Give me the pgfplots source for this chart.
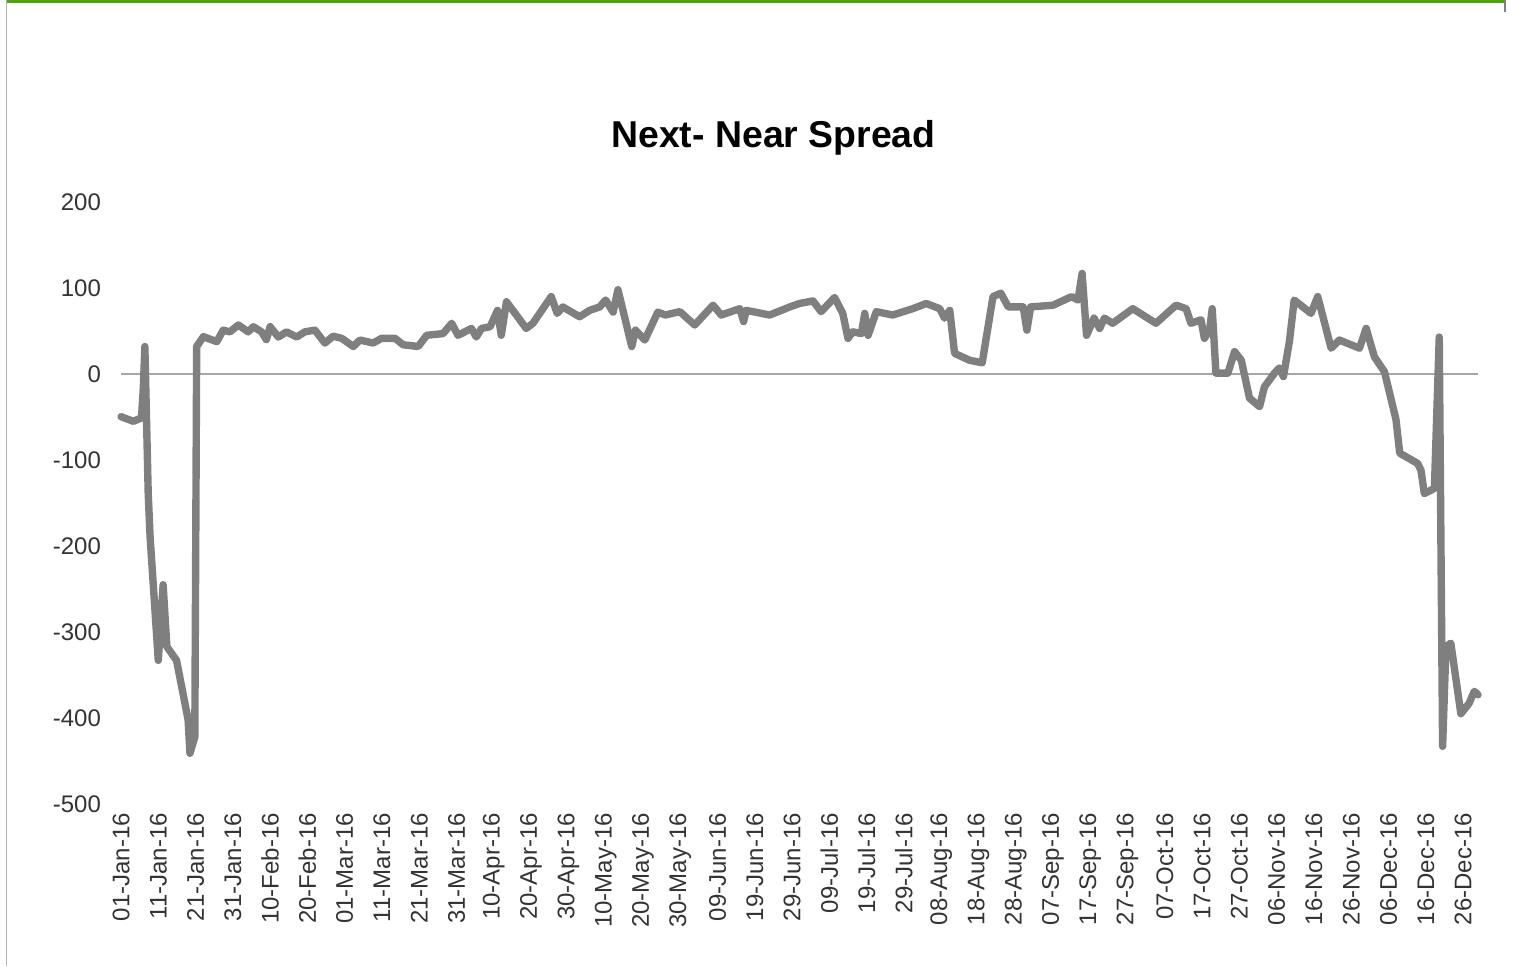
\documentclass[border=0pt]{standalone}
\usepackage{pgfplots}
\pgfplotsset{compat=1.18}
\usepackage{pgfplotstable}
\usepackage{fontspec}
\setmainfont{Liberation Sans}
\definecolor{linegray}{HTML}{7F7F7F}
\definecolor{framegreen}{HTML}{4EA30F}
\definecolor{ticktext}{HTML}{333333}
\pgfplotstableread{
day value
0 -49.6
3.3 -55
5.5 -51
6 -15
6.4 32
7.3 -139
7.8 -189
10 -333
11.3 -245
12.3 -317
14.9 -333
18 -402
18.5 -441
19.8 -422
20.3 32
22.1 43.4
25.7 37.6
27.4 51
29.2 49
31.5 57
34.1 49
35.5 55
37.7 49
39 40
40 55
42.2 43
44.4 49
47.1 43
49.3 49
52 51
54.7 36
56.9 44
59.2 41.5
62.3 32
64.1 39.5
67.6 36
69.9 41.5
73.5 41.5
75.7 34
79.7 32
82 45
86.4 47
88.7 59
90.4 45
94 53
95.3 43
96.7 53
99 55
101 74
102 45
103.4 84
108.7 53
110.5 59
115.4 90
117 70.5
118.5 78
123 66.6
125.7 74
128.4 78
130 86
132 72
133.3 98
137 32
138 51
140.5 39.5
144 72
146 68.6
149.9 72.5
153.9 57
158.8 80
161 68.6
166 76
167 61
167.7 74
174 68.6
179.4 78
182 82
185.6 85
187.8 72.5
191.4 89
193.6 70.5
195 41.5
196.3 49
198.6 47
199.5 70.5
200.4 45
202.6 72.5
207 68.6
212.4 76
216 82
219.6 76
220.9 65
222.3 74
223.6 24
227.6 16
231 13
233.9 90
236 94
238 78
242 78
243 51
244 78
250 80
255 90
256.7 86
257.8 117
259 45
261 65
262.5 53
263.8 65
266 59
271.4 76
277.6 59
283 80
285.7 76
287 59
289.7 63
290.6 41.5
292 51
292.7 76
293.7 1
296.9 1
298.7 26
300.5 16
302.7 -28
305.4 -38
306.7 -15
309.4 1
310.7 7
311.8 -3
313.4 37.6
314.7 86
319.2 70.5
321 90
324.6 30
326.8 39.5
332.2 30
334 53
336.2 20
338.9 2.7
342 -53
343 -92
347.8 -104
348.7 -112
349.6 -139
352.3 -133
353.6 43
354.5 -433
355.4 -317
356.7 -313
359.4 -395
361.6 -383
363 -369
364 -373
}\spread
\begin{document}
\begin{tikzpicture}
\path[use as bounding box] (0,0) rectangle (757pt,483pt);
% frame decoration
\fill[framegreen] (3.5pt,483pt) rectangle (752.5pt,481.5pt);
\draw[gray!60,line width=0.6pt] (3.3pt,0) -- (3.3pt,483pt);
\draw[gray,line width=0.8pt] (752.5pt,483pt) -- (752.5pt,477pt);
\node[font=\bfseries\fontsize{18.7}{22}\selectfont] at (386.75pt,414pt) {Next- Near Spread};
\begin{axis}[
  at={(60.5pt,81pt)}, anchor=south west,
  scale only axis,
  width=678.5pt, height=301pt,
  xmin=0, xmax=364,
  ymin=-500, ymax=200,
  ytick={-500,-400,...,200},
  xtick={0,10,...,360},
  xticklabels={01-Jan-16,11-Jan-16,21-Jan-16,31-Jan-16,10-Feb-16,20-Feb-16,01-Mar-16,11-Mar-16,21-Mar-16,31-Mar-16,10-Apr-16,20-Apr-16,30-Apr-16,10-May-16,20-May-16,30-May-16,09-Jun-16,19-Jun-16,29-Jun-16,09-Jul-16,19-Jul-16,29-Jul-16,08-Aug-16,18-Aug-16,28-Aug-16,07-Sep-16,17-Sep-16,27-Sep-16,07-Oct-16,17-Oct-16,27-Oct-16,06-Nov-16,16-Nov-16,26-Nov-16,06-Dec-16,16-Dec-16,26-Dec-16},
  axis line style={draw=none},
  major tick length=0pt,
  tick style={draw=none},
  /pgf/number format/assume math mode=true,
  tick label style={font=\fontsize{12}{14}\selectfont, text=ticktext},
  y tick label style={anchor=east, xshift=-6.5pt},
  x tick label style={rotate=90, anchor=east, yshift=0pt, xshift=-1pt},
  clip=false,
]
\addplot[gray!70, line width=0.6pt, forget plot] coordinates {(0,0) (364,0)};
\addplot[linegray, line width=3.7pt, line join=round, line cap=round] table[x=day,y=value] {\spread};
\end{axis}
\end{tikzpicture}
\end{document}
